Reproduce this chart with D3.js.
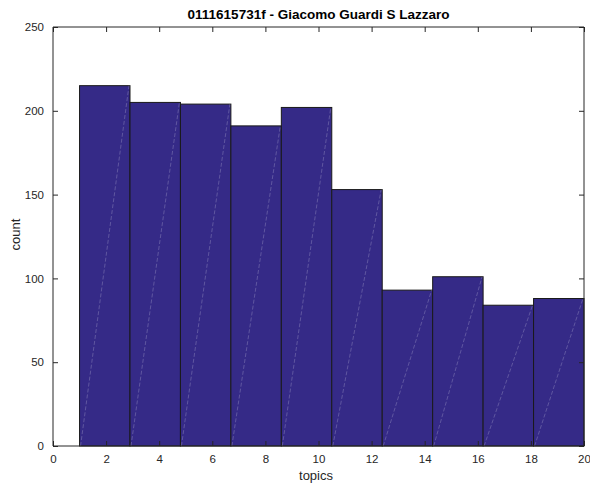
<!DOCTYPE html>
<html>
<head>
<meta charset="utf-8">
<script src="https://cdn.jsdelivr.net/npm/d3@7"></script>
<style>
  html, body { margin: 0; padding: 0; background: #fff; }
  svg text { font-family: "Liberation Sans", Arial, Helvetica, sans-serif; }
</style>
</head>
<body>
<svg id="chart" width="590" height="487"></svg>
<script>
// Histogram of topic counts
const binEdges = [1, 2.9, 4.8, 6.7, 8.6, 10.5, 12.4, 14.3, 16.2, 18.1, 20];
const counts = [215, 205, 204, 191, 202, 153, 93, 101, 84, 88];
const xTicks = [0, 2, 4, 6, 8, 10, 12, 14, 16, 18, 20];
const yTicks = [0, 50, 100, 150, 200, 250];
const titleText = "0111615731f - Giacomo Guardi S Lazzaro";
const xLabel = "topics";
const yLabel = "count";

const svg = d3.select("#chart");
const plotL = 53, plotR = 584, plotT = 27, plotB = 446;
const x = d3.scaleLinear().domain([0, 20]).range([plotL, plotR]);
const y = d3.scaleLinear().domain([0, 250]).range([plotB, plotT]);

const axisColor = "#262626";
const fillColor = "#352a87";

// bars
const bins = counts.map((c, i) => ({ x0: binEdges[i], x1: binEdges[i + 1], v: c }));
const g = svg.append("g");
g.selectAll("rect.bar").data(bins).enter().append("rect")
  .attr("class", "bar")
  .attr("x", d => x(d.x0))
  .attr("y", d => y(d.v))
  .attr("width", d => x(d.x1) - x(d.x0))
  .attr("height", d => y(0) - y(d.v))
  .attr("fill", fillColor)
  .attr("stroke", "#1a1a1a")
  .attr("stroke-width", 1);

// faint diagonal seams across each face
g.selectAll("line.seam").data(bins).enter().append("line")
  .attr("x1", d => x(d.x0) + 1)
  .attr("y1", y(0))
  .attr("x2", d => x(d.x1) - 1)
  .attr("y2", d => y(d.v))
  .attr("stroke", "rgba(255,255,255,0.3)")
  .attr("stroke-width", 0.7)
  .attr("stroke-dasharray", "4,2");

// axes (ticks pointing inward), plus mirrored top/right
const tickLen = 5;
const xAxis = d3.axisBottom(x).tickValues(xTicks).tickSize(-tickLen).tickPadding(9).tickFormat(d3.format("d"));
const yAxis = d3.axisLeft(y).tickValues(yTicks).tickSize(-tickLen).tickPadding(9).tickFormat(d3.format("d"));
const xAxisTop = d3.axisTop(x).tickValues(xTicks).tickSize(-tickLen).tickFormat("");
const yAxisRight = d3.axisRight(y).tickValues(yTicks).tickSize(-tickLen).tickFormat("");

function styleAxis(sel) {
  sel.select(".domain").attr("stroke", axisColor).attr("stroke-width", 1);
  sel.selectAll(".tick line").attr("stroke", axisColor).attr("stroke-width", 1);
  sel.selectAll(".tick text").attr("fill", axisColor).attr("font-size", 11.5)
     .style("font-family", "'Liberation Sans', Arial, sans-serif");
}

svg.append("g").attr("transform", `translate(0,${plotB})`).call(xAxis).call(styleAxis)
  .call(s => s.select(".domain").attr("d", `M${plotL},0H${plotR}`));
svg.append("g").attr("transform", `translate(${plotL},0)`).call(yAxis).call(styleAxis)
  .call(s => s.select(".domain").attr("d", `M0,${plotB}V${plotT}`));
svg.append("g").attr("transform", `translate(0,${plotT})`).call(xAxisTop).call(styleAxis)
  .call(s => s.select(".domain").attr("d", `M${plotL},0H${plotR}`));
svg.append("g").attr("transform", `translate(${plotR},0)`).call(yAxisRight).call(styleAxis)
  .call(s => s.select(".domain").attr("d", `M0,${plotB}V${plotT}`));

// labels
svg.append("text")
  .attr("x", (plotL + plotR) / 2).attr("y", 19)
  .attr("text-anchor", "middle").attr("font-size", 13.5).attr("font-weight", "bold")
  .attr("fill", "#000").text(titleText);

svg.append("text")
  .attr("x", 316).attr("y", 480)
  .attr("text-anchor", "middle").attr("font-size", 13)
  .attr("fill", axisColor).text(xLabel);

svg.append("text")
  .attr("transform", `translate(19.5,234.5) rotate(-90)`)
  .attr("text-anchor", "middle").attr("font-size", 13)
  .attr("fill", axisColor).text(yLabel);
</script>
</body>
</html>
